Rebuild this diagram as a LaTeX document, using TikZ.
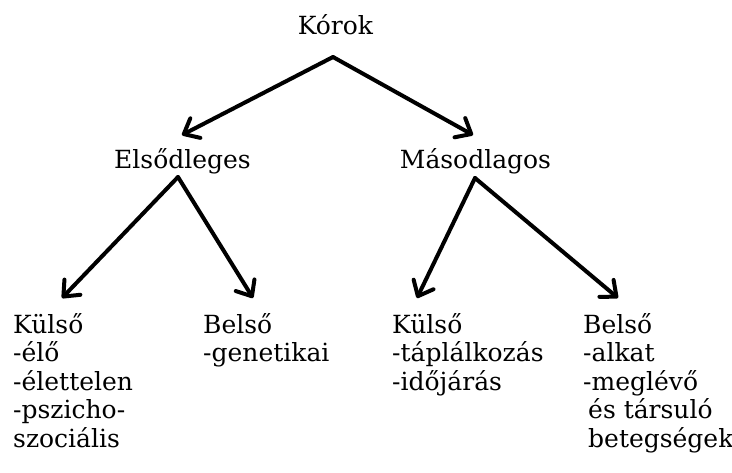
\documentclass[tikz,border=0pt]{standalone}
\usepackage{fontspec}
\setmainfont{DejaVu Serif}
\usetikzlibrary{arrows.meta}
\begin{document}
\begin{tikzpicture}[x=1pt,y=-1pt,
  lbl/.style={inner sep=0pt,font=\fontsize{25}{28.5}\selectfont},
  blk/.style={lbl,anchor=base west},
  arr/.style={line width=4pt,line cap=round,line join=round,-{Straight Barb[length=13pt,width=22pt,line cap=round,line join=round]}}]
\useasboundingbox (0,0) rectangle (732,472);
\node[lbl,anchor=base] (korok) at (335.5,34) {Kórok};
\node[lbl,anchor=base] (elso) at (182.5,168) {Elsődleges};
\node[lbl,anchor=base] (maso) at (475.5,168) {Másodlagos};
\node[blk] (ekul) at (13,333) {\begin{tabular}[t]{@{}l@{}}Külső\\-élő\\-élettelen\\-pszicho-\\szociális\end{tabular}};
\node[blk] (ebel) at (203,333) {\begin{tabular}[t]{@{}l@{}}Belső\\-genetikai\end{tabular}};
\node[blk] (mkul) at (392,333) {\begin{tabular}[t]{@{}l@{}}Külső\\-táplálkozás\\-időjárás\end{tabular}};
\node[blk] (mbel) at (583,333) {\begin{tabular}[t]{@{}l@{}}Belső\\-alkat\\-meglévő\\\hspace{5pt}és társuló\\\hspace{5pt}betegségek\end{tabular}};
\coordinate (kA) at (333,57);
\coordinate (eA) at (178,177);
\coordinate (mA) at (475,178);
\coordinate (elsoT) at (182,135);
\coordinate (masoT) at (473,135);
\coordinate (ekulT) at (62,298);
\coordinate (ebelT) at (253,298);
\coordinate (mkulT) at (417,298);
\coordinate (mbelT) at (618,298);
\draw[arr] (kA) -- (elsoT);
\draw[arr] (kA) -- (masoT);
\draw[arr] (eA) -- (ekulT);
\draw[arr] (eA) -- (ebelT);
\draw[arr] (mA) -- (mkulT);
\draw[arr] (mA) -- (mbelT);
\end{tikzpicture}
\end{document}
